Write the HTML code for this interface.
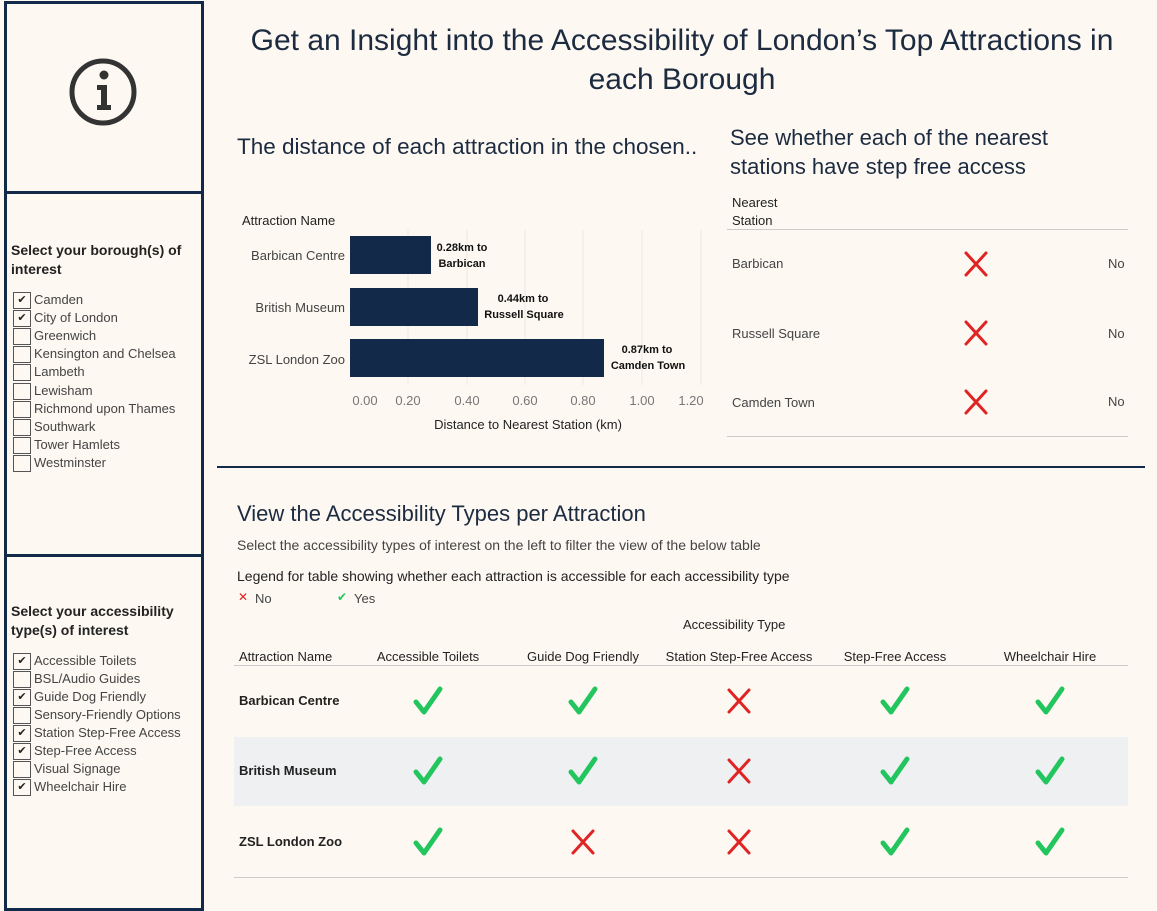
<!DOCTYPE html>
<html><head><meta charset="utf-8"><style>
body{margin:0;width:1157px;height:907px;background:#fdf8f2;font-family:"Liberation Sans",sans-serif;color:#333;position:relative;overflow:hidden}
.a{position:absolute;white-space:nowrap}
.navy{color:#13294a}
.cb{position:absolute;left:13px;width:18px;height:17px;border:1px solid #555;box-sizing:border-box;font-size:11px;line-height:15px;text-align:center;color:#222}
.cl{position:absolute;left:34px;font-size:13px;color:#444}
.t{font-size:13px;color:#444}
.h{font-size:13px;color:#222}
.b{font-size:13px;color:#222;font-weight:bold}
</style></head><body>
<div class="a" style="left:4px;top:1px;width:200px;height:910px;border:3px solid #13294a;box-sizing:border-box"></div>
<div class="a" style="left:4px;top:191px;width:200px;height:3px;background:#13294a"></div>
<div class="a" style="left:4px;top:554px;width:200px;height:3px;background:#13294a"></div>
<svg class="a" style="left:68px;top:57px" width="70" height="70" viewBox="0 0 70 70"><circle cx="35" cy="35" r="31" fill="none" stroke="#333" stroke-width="5"/><circle cx="36" cy="18" r="4.5" fill="#333"/><path d="M29 28h10v20h4v5H29v-5h4V33h-4z" fill="#333"/></svg>
<div class="a navy" style="left:11px;top:241px;font-size:14px;font-weight:bold;line-height:19px;color:#222">Select your borough(s) of<br>interest</div>
<div class="a navy" style="left:11px;top:602px;font-size:14px;font-weight:bold;line-height:19px;color:#222">Select your accessibility<br>type(s) of interest</div>
<div class="cb" style="top:292px">✔</div><div class="cl" style="top:292px">Camden</div>
<div class="cb" style="top:310px">✔</div><div class="cl" style="top:310px">City of London</div>
<div class="cb" style="top:328px"></div><div class="cl" style="top:328px">Greenwich</div>
<div class="cb" style="top:346px"></div><div class="cl" style="top:346px">Kensington and Chelsea</div>
<div class="cb" style="top:364px"></div><div class="cl" style="top:364px">Lambeth</div>
<div class="cb" style="top:383px"></div><div class="cl" style="top:383px">Lewisham</div>
<div class="cb" style="top:401px"></div><div class="cl" style="top:401px">Richmond upon Thames</div>
<div class="cb" style="top:419px"></div><div class="cl" style="top:419px">Southwark</div>
<div class="cb" style="top:437px"></div><div class="cl" style="top:437px">Tower Hamlets</div>
<div class="cb" style="top:455px"></div><div class="cl" style="top:455px">Westminster</div>
<div class="cb" style="top:653px">✔</div><div class="cl" style="top:653px">Accessible Toilets</div>
<div class="cb" style="top:671px"></div><div class="cl" style="top:671px">BSL/Audio Guides</div>
<div class="cb" style="top:689px">✔</div><div class="cl" style="top:689px">Guide Dog Friendly</div>
<div class="cb" style="top:707px"></div><div class="cl" style="top:707px">Sensory-Friendly Options</div>
<div class="cb" style="top:725px">✔</div><div class="cl" style="top:725px">Station Step-Free Access</div>
<div class="cb" style="top:743px">✔</div><div class="cl" style="top:743px">Step-Free Access</div>
<div class="cb" style="top:761px"></div><div class="cl" style="top:761px">Visual Signage</div>
<div class="cb" style="top:779px">✔</div><div class="cl" style="top:779px">Wheelchair Hire</div>

<div class="a navy" style="left:218px;width:928px;top:21px;font-size:30px;line-height:39px;text-align:center;color:#1c2b40">Get an Insight into the Accessibility of London’s Top Attractions in<br>each Borough</div>
<div class="a" style="left:237px;top:134px;font-size:22.5px;color:#1c2b40">The distance of each attraction in the chosen..</div>
<div class="a" style="left:730px;top:123px;font-size:22px;line-height:29px;color:#1c2b40">See whether each of the nearest<br>stations have step free access</div>

<svg class="a" style="left:230px;top:200px" width="490" height="240">
<g stroke="#efe9e2" stroke-width="1">
<line x1="178" y1="30" x2="178" y2="185"/><line x1="237" y1="30" x2="237" y2="185"/><line x1="295" y1="30" x2="295" y2="185"/><line x1="353" y1="30" x2="353" y2="185"/><line x1="412" y1="30" x2="412" y2="185"/><line x1="471" y1="30" x2="471" y2="185"/>
</g>
<rect x="120" y="36" width="81" height="38" fill="#13294a"/>
<rect x="120" y="88" width="128" height="38" fill="#13294a"/>
<rect x="120" y="139" width="254" height="38" fill="#13294a"/>
<g font-family="Liberation Sans" font-size="13" fill="#444" text-anchor="end">
<text x="115" y="60">Barbican Centre</text><text x="115" y="112">British Museum</text><text x="115" y="164">ZSL London Zoo</text></g>
<text x="12" y="25" font-size="13" fill="#222">Attraction Name</text>
<g font-size="11" font-weight="bold" fill="#111" text-anchor="middle">
<text x="232" y="51">0.28km to</text><text x="232" y="67">Barbican</text>
<text x="293" y="102">0.44km to</text><text x="294" y="118">Russell Square</text>
<text x="417" y="153">0.87km to</text><text x="418" y="169">Camden Town</text></g>
<g font-size="13" fill="#777" text-anchor="middle">
<text x="135" y="205">0.00</text><text x="178" y="205">0.20</text><text x="237" y="205">0.40</text><text x="295" y="205">0.60</text><text x="353" y="205">0.80</text><text x="412" y="205">1.00</text><text x="461" y="205">1.20</text></g>
<text x="298" y="229" font-size="13" fill="#222" text-anchor="middle">Distance to Nearest Station (km)</text>
</svg>

<div class="a h" style="left:732px;top:194px;line-height:18px">Nearest<br>Station</div>
<div class="a" style="left:727px;top:229px;width:401px;height:1px;background:#ccc"></div>
<div class="a" style="left:727px;top:436px;width:401px;height:1px;background:#ccc"></div>
<div class="a t" style="left:732px;top:256px">Barbican</div>
<div class="a t" style="left:732px;top:326px">Russell Square</div>
<div class="a t" style="left:732px;top:395px">Camden Town</div>
<div class="a t" style="left:1108px;top:256px">No</div>
<div class="a t" style="left:1108px;top:326px">No</div>
<div class="a t" style="left:1108px;top:394px">No</div>

<div class="a" style="left:217px;top:466px;width:928px;height:2px;background:#13294a"></div>

<div class="a" style="left:237px;top:501px;font-size:22px;color:#1c2b40">View the Accessibility Types per Attraction</div>
<div class="a t" style="left:237px;top:537px;font-size:14px">Select the accessibility types of interest on the left to filter the view of the below table</div>
<div class="a" style="left:237px;top:568px;font-size:14px;color:#222">Legend for table showing whether each attraction is accessible for each accessibility type</div>
<div class="a" style="left:238px;top:590px;font-size:12px;color:#e02020">✕</div><div class="a t" style="left:255px;top:591px">No</div>
<div class="a" style="left:337px;top:590px;font-size:12px;color:#22c55e">✔</div><div class="a t" style="left:354px;top:591px">Yes</div>
<div class="a h" style="left:683px;top:617px">Accessibility Type</div>
<div class="a h" style="left:239px;top:649px">Attraction Name</div>
<div class="a h" style="left:428px;top:649px;transform:translateX(-50%)">Accessible Toilets</div>
<div class="a h" style="left:583px;top:649px;transform:translateX(-50%)">Guide Dog Friendly</div>
<div class="a h" style="left:739px;top:649px;transform:translateX(-50%)">Station Step-Free Access</div>
<div class="a h" style="left:895px;top:649px;transform:translateX(-50%)">Step-Free Access</div>
<div class="a h" style="left:1050px;top:649px;transform:translateX(-50%)">Wheelchair Hire</div>
<div class="a" style="left:234px;top:665px;width:894px;height:1px;background:#ccc"></div>
<div class="a" style="left:234px;top:737px;width:894px;height:69px;background:#eef0f1"></div>
<div class="a" style="left:234px;top:877px;width:894px;height:1px;background:#ccc"></div>
<div class="a b" style="left:239px;top:693px">Barbican Centre</div>
<div class="a b" style="left:239px;top:763px">British Museum</div>
<div class="a b" style="left:239px;top:834px">ZSL London Zoo</div>

<svg class="a" style="left:0;top:0" width="1157" height="907">
<defs>
<g id="ck"><path d="M-12 1 L-4 11 L12 -12" fill="none" stroke="#22c55e" stroke-width="5" stroke-linecap="round" stroke-linejoin="round"/></g>
<g id="x"><path d="M-10 -11 L10 11 M10 -11 L-10 11" stroke="#e02424" stroke-width="3" stroke-linecap="round"/></g>
</defs>
<use href="#x" x="976" y="264"/><use href="#x" x="976" y="333"/><use href="#x" x="976" y="402"/>
<use href="#ck" x="428" y="701"/><use href="#ck" x="583" y="701"/><use href="#x" x="739" y="701"/><use href="#ck" x="895" y="701"/><use href="#ck" x="1050" y="701"/>
<use href="#ck" x="428" y="771"/><use href="#ck" x="583" y="771"/><use href="#x" x="739" y="771"/><use href="#ck" x="895" y="771"/><use href="#ck" x="1050" y="771"/>
<use href="#ck" x="428" y="842"/><use href="#x" x="583" y="842"/><use href="#x" x="739" y="842"/><use href="#ck" x="895" y="842"/><use href="#ck" x="1050" y="842"/>
</svg>
</body></html>
